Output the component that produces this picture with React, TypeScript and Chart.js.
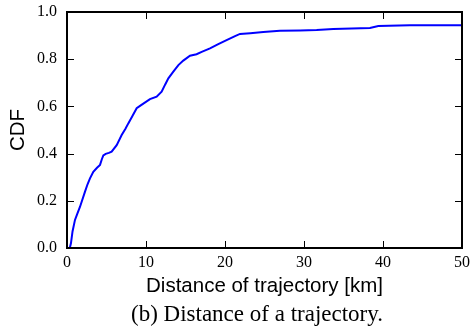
import { useEffect, useRef } from "react";
import { Chart, registerables } from "chart.js";

Chart.register(...registerables);

// Distance of trajectory [km] and CDF values
const distanceKm = [
  0.35, 0.5, 0.7, 1.01, 1.3, 1.65, 2.28, 2.6, 2.91, 3.33, 3.8, 4.18, 4.4, 4.6,
  4.9, 5.3, 5.65, 6.29, 6.92, 7.4, 7.76, 8.3, 8.82, 9.24, 10.5, 11.35, 11.98,
  12.4, 12.83, 13.46, 14.1, 14.72, 15.57, 16.4, 17.05, 18.1, 19.15, 20.2, 21.27,
  21.9, 23.2, 24.85, 26.96, 29.5, 31.6, 33.7, 38.35, 39.4, 43.4, 50,
];
const cdfValues = [
  0, 0.02, 0.07, 0.119, 0.145, 0.175, 0.239, 0.27, 0.295, 0.323, 0.34, 0.352,
  0.375, 0.392, 0.399, 0.403, 0.408, 0.436, 0.479, 0.505, 0.528, 0.56, 0.592,
  0.602, 0.631, 0.641, 0.662, 0.691, 0.719, 0.747, 0.775, 0.794, 0.815, 0.821,
  0.831, 0.846, 0.864, 0.881, 0.898, 0.907, 0.91, 0.915, 0.921, 0.922, 0.924,
  0.928, 0.932, 0.941, 0.944, 0.944,
];
const xTicks = [0, 10, 20, 30, 40, 50];
const yTicks = [0, 0.2, 0.4, 0.6, 0.8, 1.0];

const xTitle = "Distance of trajectory [km]";
const yTitle = "CDF";
const caption = "(b) Distance of a trajectory.";

const framePlugin = {
  id: "frame",
  afterDraw(chart: any) {
    const { ctx, chartArea: a, scales } = chart;
    const xs = scales.x;
    const ys = scales.y;
    ctx.save();
    ctx.strokeStyle = "#000";
    ctx.lineWidth = 1;
    const tl = 7;
    ctx.beginPath();
    for (const v of xTicks) {
      const px = Math.round(xs.getPixelForValue(v)) + 0.5;
      ctx.moveTo(px, a.bottom);
      ctx.lineTo(px, a.bottom - tl);
      ctx.moveTo(px, a.top);
      ctx.lineTo(px, a.top + tl);
    }
    for (const v of yTicks) {
      const py = Math.round(ys.getPixelForValue(v)) + 0.5;
      ctx.moveTo(a.left, py);
      ctx.lineTo(a.left + tl, py);
      ctx.moveTo(a.right, py);
      ctx.lineTo(a.right - tl, py);
    }
    ctx.stroke();
    ctx.lineWidth = 2;
    ctx.strokeRect(a.left, a.top, a.right - a.left, a.bottom - a.top);
    ctx.fillStyle = "#000";
    ctx.textAlign = "center";
    ctx.textBaseline = "middle";
    ctx.font = '20.5px "Liberation Sans", Arial, sans-serif';
    ctx.fillText(xTitle, (a.left + a.right) / 2, 286);
    ctx.save();
    ctx.translate(18, (a.top + a.bottom) / 2);
    ctx.rotate(-Math.PI / 2);
    ctx.fillText(yTitle, 0, 0);
    ctx.restore();
    ctx.font = '23px "Liberation Serif", "Times New Roman", serif';
    ctx.fillText(caption, 257, 315);
    ctx.restore();
  },
};

export default function App() {
  const ref = useRef<HTMLCanvasElement | null>(null);
  useEffect(() => {
    if (!ref.current) return;
    const points = distanceKm.map((x, i) => ({ x, y: cdfValues[i] }));
    const tickFont = { family: '"Liberation Serif", "Times New Roman", serif', size: 16 };
    const chart = new Chart(ref.current, {
      type: "scatter",
      data: {
        datasets: [
          {
            data: points,
            showLine: true,
            borderColor: "#0000ff",
            backgroundColor: "#0000ff",
            borderWidth: 2,
            pointRadius: 0,
            tension: 0,
          },
        ],
      },
      options: {
        animation: false,
        responsive: false,
        events: [],
        layout: { padding: { left: 0, top: 12, right: 10, bottom: 0 } },
        plugins: { legend: { display: false }, tooltip: { enabled: false } },
        scales: {
          x: {
            type: "linear",
            min: 0,
            max: 50,
            afterFit: (s: any) => {
              s.height = 80;
              s.paddingLeft = 0;
              s.paddingRight = 0;
              s.paddingTop = 0;
              s.paddingBottom = 0;
            },
            afterBuildTicks: (s: any) => {
              s.ticks = xTicks.map((v) => ({ value: v }));
            },
            grid: { display: false, drawTicks: false },
            border: { display: false },
            ticks: {
              padding: 5,
              color: "#000",
              font: tickFont,
              maxRotation: 0,
              callback: (v: any) => String(v),
            },
          },
          y: {
            type: "linear",
            min: 0,
            max: 1,
            afterFit: (s: any) => {
              s.width = 67;
              s.paddingLeft = 0;
              s.paddingRight = 0;
              s.paddingTop = 0;
              s.paddingBottom = 0;
            },
            afterBuildTicks: (s: any) => {
              s.ticks = yTicks.map((v) => ({ value: v }));
            },
            grid: { display: false, drawTicks: false },
            border: { display: false },
            ticks: {
              padding: 10,
              color: "#000",
              font: tickFont,
              callback: (v: any) => Number(v).toFixed(1),
            },
          },
        },
      },
      plugins: [framePlugin],
    });
    return () => chart.destroy();
  }, []);
  return (
    <div style={{ position: "absolute", left: 0, top: 0, width: 472, height: 328, background: "#fff" }}>
      <canvas ref={ref} width={472} height={328} style={{ width: 472, height: 328, display: "block" }} />
    </div>
  );
}
